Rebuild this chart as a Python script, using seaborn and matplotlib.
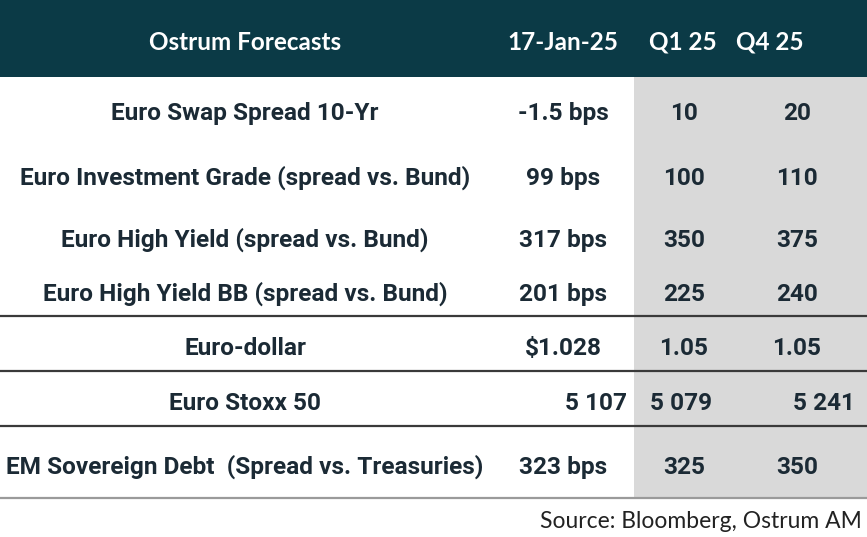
import seaborn as sns
import matplotlib.pyplot as plt
from matplotlib.patches import Rectangle

# table content
header = ["Ostrum Forecasts", "17-Jan-25", "Q1 25", "Q4 25"]
assets = [
    "Euro Swap Spread 10-Yr",
    "Euro Investment Grade (spread vs. Bund)",
    "Euro High Yield (spread vs. Bund)",
    "Euro High Yield BB (spread vs. Bund)",
    "Euro-dollar",
    "Euro Stoxx 50",
    "EM Sovereign Debt  (Spread vs. Treasuries)",
]
spot = ["-1.5 bps", "99 bps", "317 bps", "201 bps", "$1.028", "5 107", "323 bps"]
q1_25 = ["10", "100", "350", "225", "1.05", "5 079", "325"]
q4_25 = ["20", "110", "375", "240", "1.05", "5 241", "350"]
source = "Source: Bloomberg, Ostrum AM"

sns.set_theme(style="white")
body_font = ["Roboto", "DejaVu Sans"]
head_font = ["Lato", "DejaVu Sans"]

W, H = 867, 537
fig = plt.figure(figsize=(W / 100, H / 100), dpi=100)
ax = fig.add_axes([0, 0, 1, 1])
ax.set_xlim(0, W)
ax.set_ylim(H, 0)
ax.axis("off")

teal = "#0b3a46"
ink = "#1b2a35"

# header band and shaded forecast columns
ax.add_patch(Rectangle((0, 0), W, 77, color=teal, lw=0))
ax.add_patch(Rectangle((634, 77), W - 634, 421, color="#d9d9d9", lw=0))

hx = [245, 563, 683, 770]
for x, t in zip(hx, header):
    ax.text(x, 42, t, color="white", fontsize=17.5, fontweight="bold",
            family=head_font, ha="center", va="center")

# text baselines per row
row_base = [120, 185, 247, 301, 355, 410, 474]
for i, y in enumerate(row_base):
    kw = dict(color=ink, fontsize=17.6, fontweight="bold", family=body_font, va="baseline")
    ax.text(245, y, assets[i], ha="center", **kw)
    if assets[i] == "Euro Stoxx 50":
        ax.text(627, y, spot[i], ha="right", **kw)
        ax.text(681, y, q1_25[i], ha="center", **kw)
        ax.text(855, y, q4_25[i], ha="right", **kw)
    else:
        ax.text(563, y, spot[i], ha="center", **kw)
        ax.text(684, y, q1_25[i], ha="center", **kw)
        ax.text(797, y, q4_25[i], ha="center", **kw)

# separators
for y in [316, 371, 426]:
    ax.plot([0, W], [y, y], color="#3a3a3a", lw=1.6)
ax.plot([0, W], [498, 498], color="#9a9a9a", lw=1.6)

ax.text(862, 521, source, color="#222222", fontsize=16.5, family=head_font,
        ha="right", va="center")

fig.savefig("out.png", dpi=100)
